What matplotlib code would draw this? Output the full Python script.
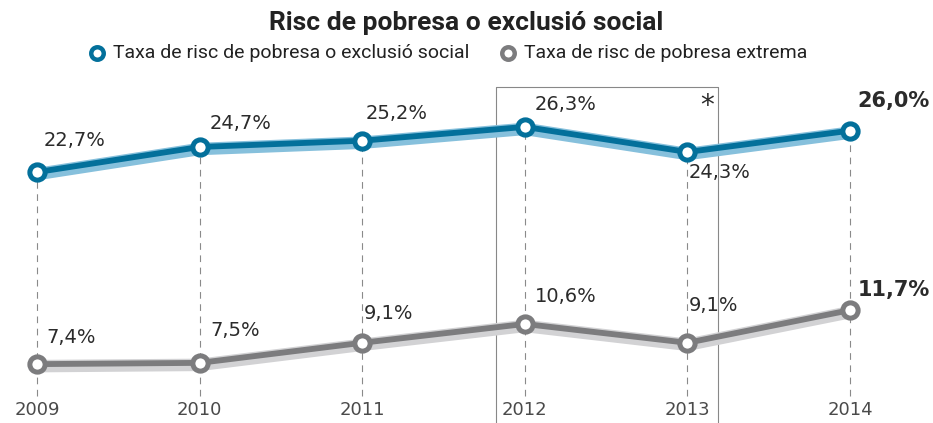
import matplotlib
matplotlib.use("Agg")
import matplotlib.pyplot as plt
from matplotlib.lines import Line2D
import matplotlib.transforms as mtransforms

years = [2009, 2010, 2011, 2012, 2013, 2014]
risc_social = [22.7, 24.7, 25.2, 26.3, 24.3, 26.0]
risc_extrema = [7.4, 7.5, 9.1, 10.6, 9.1, 11.7]
labels_social = ["22,7%", "24,7%", "25,2%", "26,3%", "24,3%", "26,0%"]
labels_extrema = ["7,4%", "7,5%", "9,1%", "10,6%", "9,1%", "11,7%"]

title = "Risc de pobresa o exclusió social"
legend_social = "Taxa de risc de pobresa o exclusió social"
legend_extrema = "Taxa de risc de pobresa extrema"

BLUE = "#03709b"
BLUE_LIGHT = "#86c0dc"
GRAY = "#7c7c7e"
GRAY_LIGHT = "#d2d2d4"
TXT = "#2b2b2b"
HEAD = ["Roboto", "DejaVu Sans"]

fig = plt.figure(figsize=(9.33, 4.23), dpi=100)
ax = fig.add_axes([0, 0, 1, 1])
ax.set_xlim(2008.7725, 2014.5105)
ax.set_ylim(2.71, 36.41)
ax.axis("off")

# dashed guides
ax.vlines(years, 4.9, risc_social, colors="#8a8a8a", linestyles=(0, (6, 5)),
          linewidth=0.8, zorder=1)

# box around 2012-2013
ax.plot([2012 - 0.18, 2012 - 0.18, 2013 + 0.19, 2013 + 0.19],
        [0, 29.5, 29.5, 0], color="#888888", linewidth=0.8, zorder=1)
ax.text(2013 + 0.12, 28.0, "*", fontsize=20, ha="center", va="center", color=TXT)

halo = mtransforms.offset_copy(ax.transData, fig=fig, x=0, y=-2, units="dots")
for vals, dark, light in [(risc_social, BLUE, BLUE_LIGHT), (risc_extrema, GRAY, GRAY_LIGHT)]:
    ax.plot(years, vals, color=light, linewidth=9, transform=halo,
            solid_capstyle="round", zorder=2)
    ax.plot(years, vals, color=dark, linewidth=4.2, zorder=3,
            marker="o", markersize=11, markerfacecolor="white",
            markeredgecolor=dark, markeredgewidth=3.6)

# value labels
off_social = [(0.23, 2.5), (0.25, 1.9), (0.21, 2.2), (0.25, 1.8), (0.20, -1.6), (0.27, 2.4)]
off_extrema = [(0.21, 2.1), (0.22, 2.6), (0.16, 2.3), (0.25, 2.2), (0.16, 3.0), (0.27, 1.6)]
for i, y in enumerate(years):
    last = i == len(years) - 1
    for vals, labs, offs in [(risc_social, labels_social, off_social),
                             (risc_extrema, labels_extrema, off_extrema)]:
        dx, dy = offs[i]
        ax.text(y + dx, vals[i] + dy, labs[i], ha="center", va="center",
                fontsize=15 if last else 14, fontweight="bold" if last else "normal",
                color=TXT)
    ax.text(y, 3.75, str(y), ha="center", va="center", fontsize=13, color="#4a4a4a")

# title and legend
fig.text(0.5, 0.945, title, ha="center", va="center", fontsize=19,
         fontweight="bold", family=HEAD, color="#222222")
for xm, xt, col, lab in [(97, 113, BLUE, legend_social), (508, 524, GRAY, legend_extrema)]:
    fig.add_artist(Line2D([xm / 933], [1 - 53 / 423], marker="o", markersize=9,
                          markerfacecolor="white", markeredgecolor=col,
                          markeredgewidth=3.2, transform=fig.transFigure))
    fig.text(xt / 933, 1 - 53 / 423, lab, ha="left", va="center", fontsize=14,
             family=HEAD, color="#222222")

fig.savefig("out.png", dpi=100)
